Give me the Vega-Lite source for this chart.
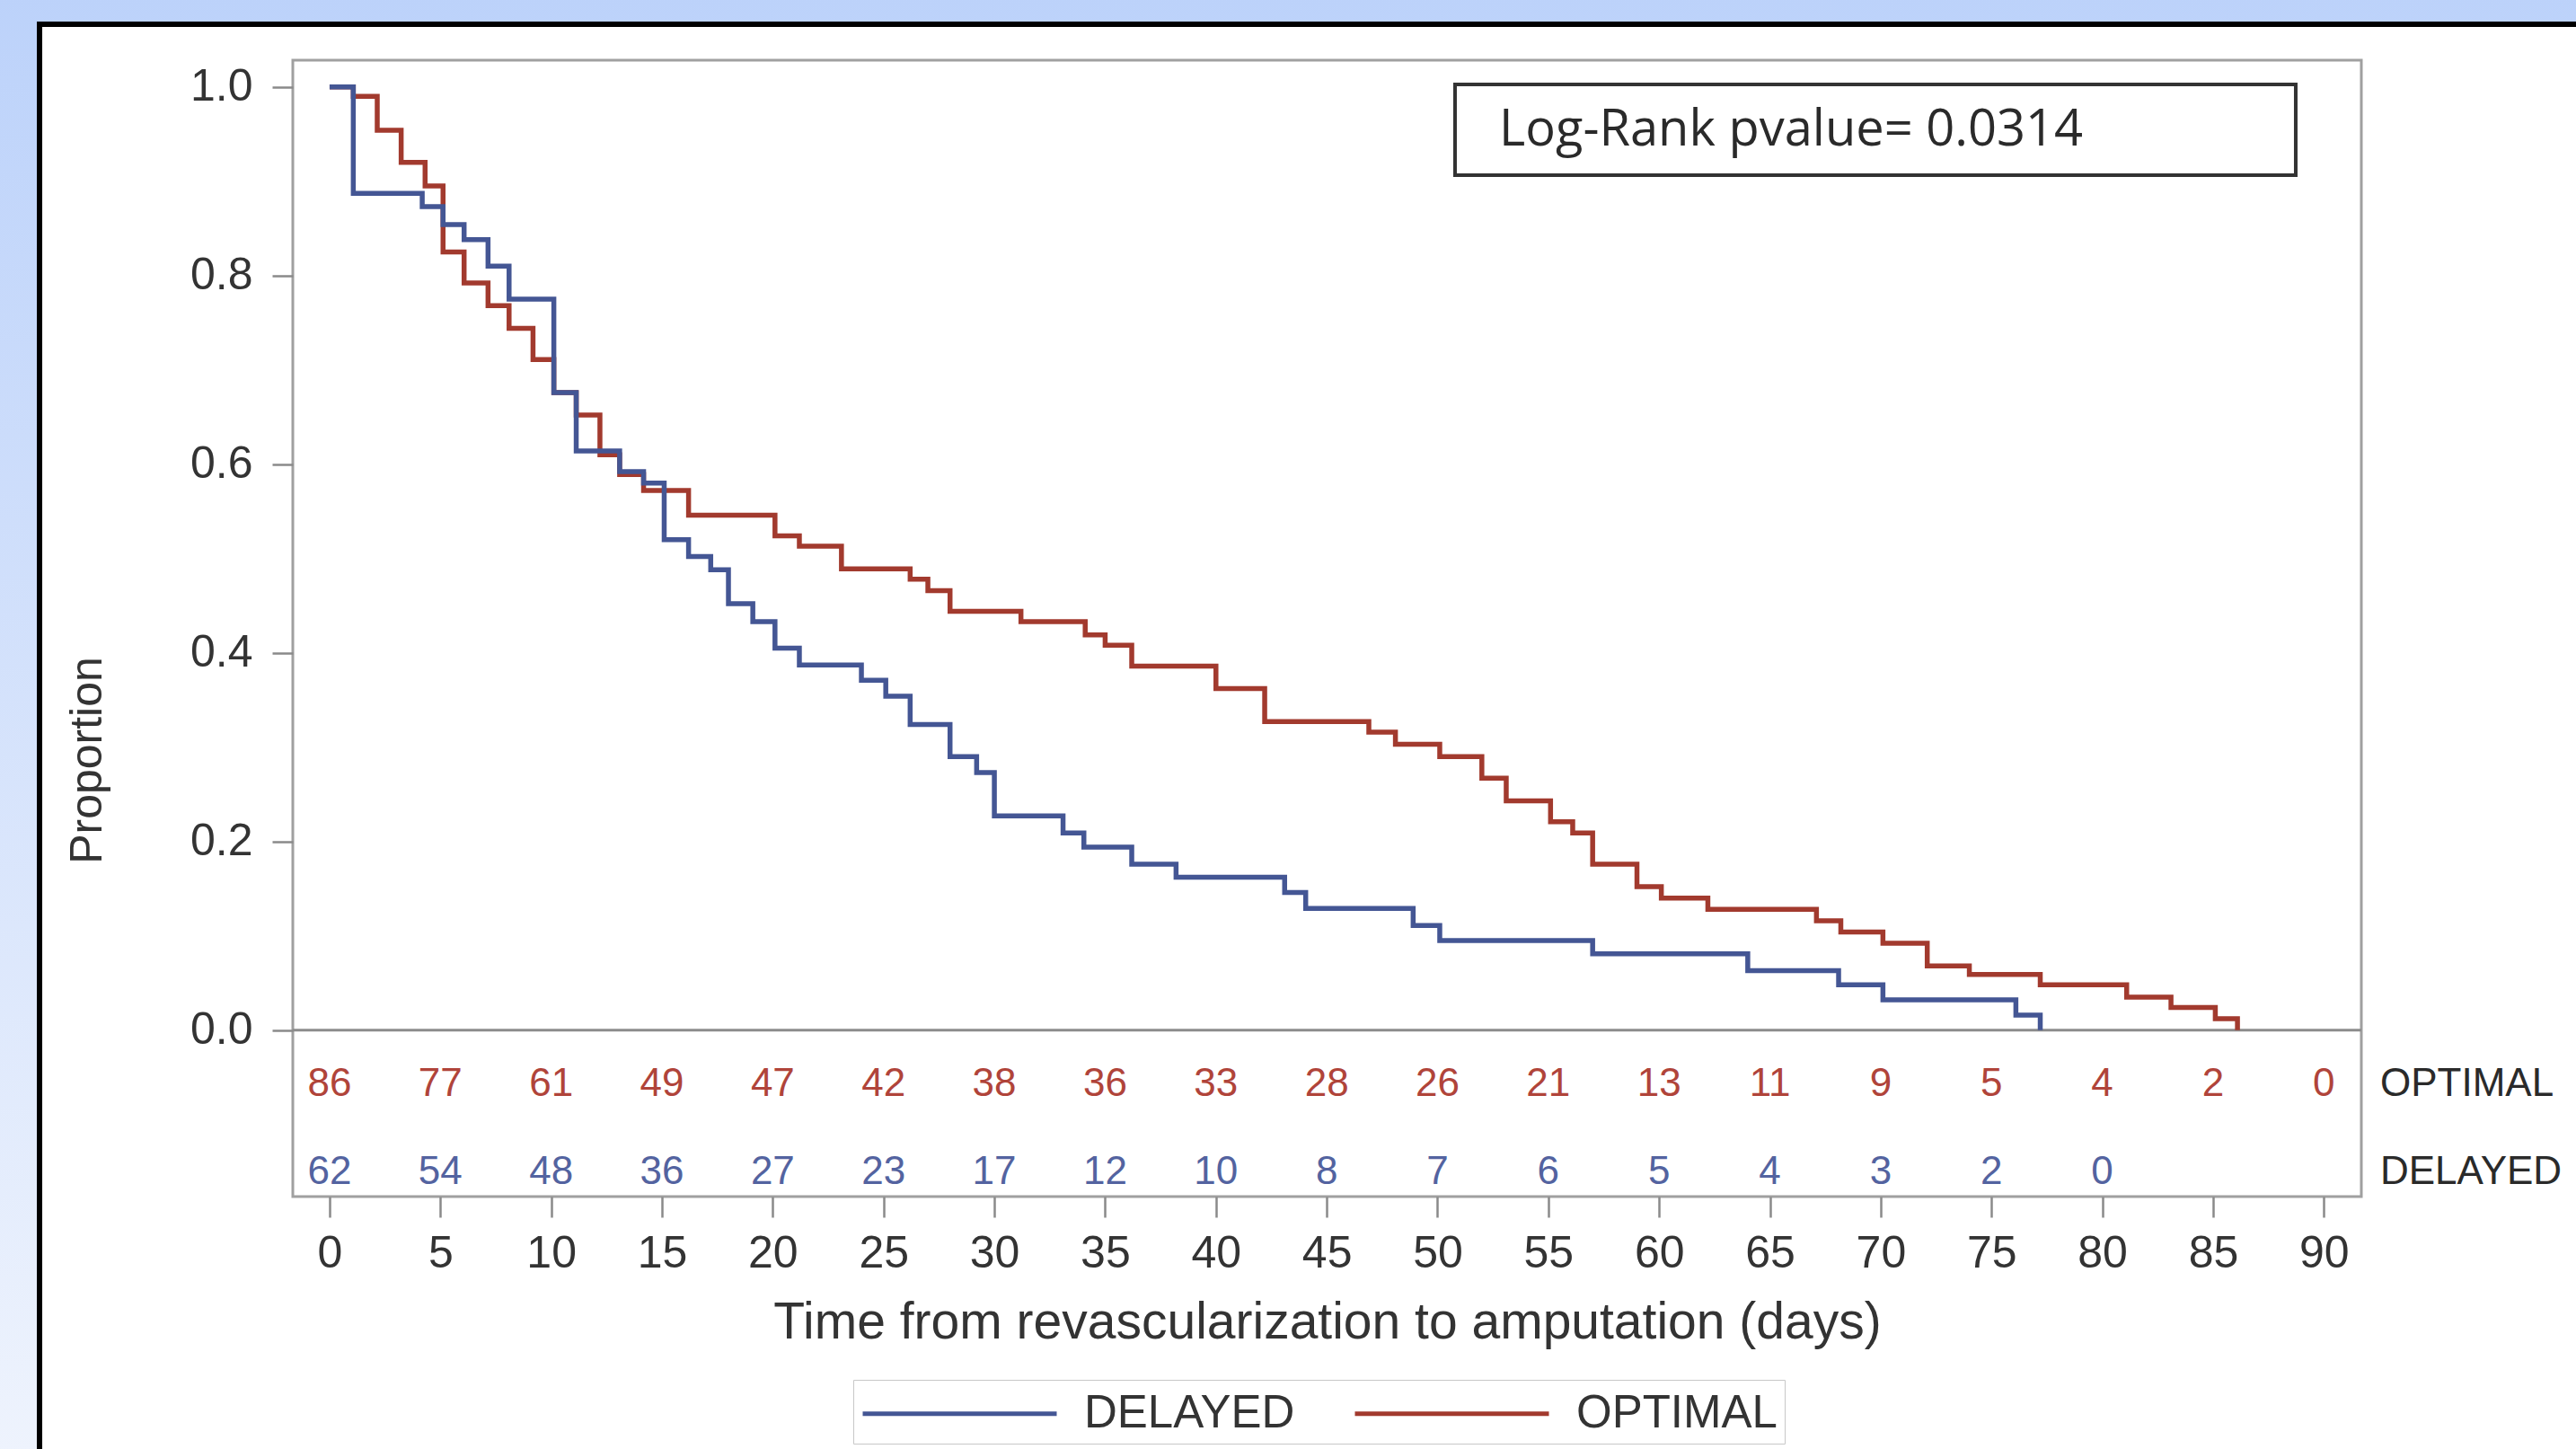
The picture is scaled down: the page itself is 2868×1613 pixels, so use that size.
{
  "$schema": "https://vega.github.io/schema/vega-lite/v6.json",
  "width": 2303,
  "height": 1265,
  "autosize": {"type": "none"},
  "padding": {"left": 326, "top": 67, "right": 239, "bottom": 281},
  "background": "#d3e2fb",
  "config": {
    "view": {"stroke": null},
    "font": "Liberation Sans"
  },
  "datasets": {
    "annot": [{"text": "Log-Rank pvalue= 0.0314"}],
    "km": [
      {"group": "OPTIMAL", "day": 0, "surv": 1.0},
      {"group": "OPTIMAL", "day": 1.07, "surv": 0.99},
      {"group": "OPTIMAL", "day": 2.15, "surv": 0.954},
      {"group": "OPTIMAL", "day": 3.23, "surv": 0.92},
      {"group": "OPTIMAL", "day": 4.31, "surv": 0.895},
      {"group": "OPTIMAL", "day": 5.12, "surv": 0.825},
      {"group": "OPTIMAL", "day": 6.07, "surv": 0.792},
      {"group": "OPTIMAL", "day": 7.15, "surv": 0.768},
      {"group": "OPTIMAL", "day": 8.1, "surv": 0.744},
      {"group": "OPTIMAL", "day": 9.18, "surv": 0.711},
      {"group": "OPTIMAL", "day": 10.12, "surv": 0.676},
      {"group": "OPTIMAL", "day": 11.13, "surv": 0.652},
      {"group": "OPTIMAL", "day": 12.2, "surv": 0.61},
      {"group": "OPTIMAL", "day": 13.09, "surv": 0.589},
      {"group": "OPTIMAL", "day": 14.17, "surv": 0.572},
      {"group": "OPTIMAL", "day": 16.2, "surv": 0.546},
      {"group": "OPTIMAL", "day": 20.1, "surv": 0.524},
      {"group": "OPTIMAL", "day": 21.2, "surv": 0.513},
      {"group": "OPTIMAL", "day": 23.1, "surv": 0.489},
      {"group": "OPTIMAL", "day": 26.2, "surv": 0.478},
      {"group": "OPTIMAL", "day": 27.0, "surv": 0.466},
      {"group": "OPTIMAL", "day": 28.0, "surv": 0.444},
      {"group": "OPTIMAL", "day": 31.2, "surv": 0.433},
      {"group": "OPTIMAL", "day": 34.1, "surv": 0.419},
      {"group": "OPTIMAL", "day": 35.0, "surv": 0.408},
      {"group": "OPTIMAL", "day": 36.2, "surv": 0.386},
      {"group": "OPTIMAL", "day": 40.0, "surv": 0.362},
      {"group": "OPTIMAL", "day": 42.2, "surv": 0.327},
      {"group": "OPTIMAL", "day": 46.9, "surv": 0.316},
      {"group": "OPTIMAL", "day": 48.1, "surv": 0.303},
      {"group": "OPTIMAL", "day": 50.1, "surv": 0.29},
      {"group": "OPTIMAL", "day": 52.0, "surv": 0.267},
      {"group": "OPTIMAL", "day": 53.1, "surv": 0.243},
      {"group": "OPTIMAL", "day": 55.1, "surv": 0.221},
      {"group": "OPTIMAL", "day": 56.1, "surv": 0.209},
      {"group": "OPTIMAL", "day": 57.0, "surv": 0.176},
      {"group": "OPTIMAL", "day": 59.0, "surv": 0.152},
      {"group": "OPTIMAL", "day": 60.1, "surv": 0.14},
      {"group": "OPTIMAL", "day": 62.2, "surv": 0.128},
      {"group": "OPTIMAL", "day": 67.1, "surv": 0.116},
      {"group": "OPTIMAL", "day": 68.2, "surv": 0.104},
      {"group": "OPTIMAL", "day": 70.1, "surv": 0.092},
      {"group": "OPTIMAL", "day": 72.1, "surv": 0.068},
      {"group": "OPTIMAL", "day": 74.0, "surv": 0.059},
      {"group": "OPTIMAL", "day": 77.2, "surv": 0.048},
      {"group": "OPTIMAL", "day": 81.1, "surv": 0.035},
      {"group": "OPTIMAL", "day": 83.1, "surv": 0.024},
      {"group": "OPTIMAL", "day": 85.1, "surv": 0.012},
      {"group": "OPTIMAL", "day": 86.1, "surv": 0.0},
      {"group": "DELAYED", "day": 0, "surv": 1.0},
      {"group": "DELAYED", "day": 1.07, "surv": 0.887},
      {"group": "DELAYED", "day": 4.18, "surv": 0.873},
      {"group": "DELAYED", "day": 5.12, "surv": 0.854},
      {"group": "DELAYED", "day": 6.07, "surv": 0.838},
      {"group": "DELAYED", "day": 7.15, "surv": 0.81},
      {"group": "DELAYED", "day": 8.1, "surv": 0.775},
      {"group": "DELAYED", "day": 10.12, "surv": 0.676},
      {"group": "DELAYED", "day": 11.13, "surv": 0.614},
      {"group": "DELAYED", "day": 13.09, "surv": 0.592},
      {"group": "DELAYED", "day": 14.17, "surv": 0.58},
      {"group": "DELAYED", "day": 15.1, "surv": 0.52},
      {"group": "DELAYED", "day": 16.2, "surv": 0.502},
      {"group": "DELAYED", "day": 17.2, "surv": 0.488},
      {"group": "DELAYED", "day": 18.0, "surv": 0.452},
      {"group": "DELAYED", "day": 19.1, "surv": 0.433},
      {"group": "DELAYED", "day": 20.1, "surv": 0.405},
      {"group": "DELAYED", "day": 21.2, "surv": 0.387},
      {"group": "DELAYED", "day": 24.0, "surv": 0.371},
      {"group": "DELAYED", "day": 25.1, "surv": 0.354},
      {"group": "DELAYED", "day": 26.2, "surv": 0.324},
      {"group": "DELAYED", "day": 28.0, "surv": 0.29},
      {"group": "DELAYED", "day": 29.2, "surv": 0.273},
      {"group": "DELAYED", "day": 30.0, "surv": 0.227},
      {"group": "DELAYED", "day": 33.1, "surv": 0.209},
      {"group": "DELAYED", "day": 34.04, "surv": 0.194},
      {"group": "DELAYED", "day": 36.2, "surv": 0.176},
      {"group": "DELAYED", "day": 38.2, "surv": 0.162},
      {"group": "DELAYED", "day": 43.1, "surv": 0.146},
      {"group": "DELAYED", "day": 44.05, "surv": 0.129},
      {"group": "DELAYED", "day": 48.9, "surv": 0.111},
      {"group": "DELAYED", "day": 50.1, "surv": 0.095},
      {"group": "DELAYED", "day": 57.0, "surv": 0.081},
      {"group": "DELAYED", "day": 64.0, "surv": 0.063},
      {"group": "DELAYED", "day": 68.1, "surv": 0.048},
      {"group": "DELAYED", "day": 70.1, "surv": 0.032},
      {"group": "DELAYED", "day": 76.1, "surv": 0.016},
      {"group": "DELAYED", "day": 77.2, "surv": 0.0}
    ],
    "risk": [
      {"group": "OPTIMAL", "day": 0, "n": 86},
      {"group": "OPTIMAL", "day": 5, "n": 77},
      {"group": "OPTIMAL", "day": 10, "n": 61},
      {"group": "OPTIMAL", "day": 15, "n": 49},
      {"group": "OPTIMAL", "day": 20, "n": 47},
      {"group": "OPTIMAL", "day": 25, "n": 42},
      {"group": "OPTIMAL", "day": 30, "n": 38},
      {"group": "OPTIMAL", "day": 35, "n": 36},
      {"group": "OPTIMAL", "day": 40, "n": 33},
      {"group": "OPTIMAL", "day": 45, "n": 28},
      {"group": "OPTIMAL", "day": 50, "n": 26},
      {"group": "OPTIMAL", "day": 55, "n": 21},
      {"group": "OPTIMAL", "day": 60, "n": 13},
      {"group": "OPTIMAL", "day": 65, "n": 11},
      {"group": "OPTIMAL", "day": 70, "n": 9},
      {"group": "OPTIMAL", "day": 75, "n": 5},
      {"group": "OPTIMAL", "day": 80, "n": 4},
      {"group": "OPTIMAL", "day": 85, "n": 2},
      {"group": "OPTIMAL", "day": 90, "n": 0},
      {"group": "DELAYED", "day": 0, "n": 62},
      {"group": "DELAYED", "day": 5, "n": 54},
      {"group": "DELAYED", "day": 10, "n": 48},
      {"group": "DELAYED", "day": 15, "n": 36},
      {"group": "DELAYED", "day": 20, "n": 27},
      {"group": "DELAYED", "day": 25, "n": 23},
      {"group": "DELAYED", "day": 30, "n": 17},
      {"group": "DELAYED", "day": 35, "n": 12},
      {"group": "DELAYED", "day": 40, "n": 10},
      {"group": "DELAYED", "day": 45, "n": 8},
      {"group": "DELAYED", "day": 50, "n": 7},
      {"group": "DELAYED", "day": 55, "n": 6},
      {"group": "DELAYED", "day": 60, "n": 5},
      {"group": "DELAYED", "day": 65, "n": 4},
      {"group": "DELAYED", "day": 70, "n": 3},
      {"group": "DELAYED", "day": 75, "n": 2},
      {"group": "DELAYED", "day": 80, "n": 0}
    ]
  },
  "layer": [
    {
      "data": {"name": "annot"},
      "mark": {"type": "rect", "color": {"gradient": "linear", "x1": 0, "y1": 0, "x2": 0, "y2": 1, "stops": [{"offset": 0, "color": "#bcd2fa"}, {"offset": 1, "color": "#eef3fd"}]}},
      "encoding": {
        "x": {"datum": -15}, "x2": {"datum": 102},
        "y": {"datum": 1.1}, "y2": {"datum": -0.45}
      }
    },
    {
      "data": {"name": "annot"},
      "mark": {"type": "rect", "fill": "#ffffff", "stroke": "#000000", "strokeWidth": 6},
      "encoding": {
        "x": {"datum": -13.09}, "x2": {"datum": 102},
        "y": {"datum": 1.0664}, "y2": {"datum": -0.45}
      }
    },
    {
      "data": {"name": "annot"},
      "mark": {"type": "rect", "filled": false, "color": "#a0a0a0", "strokeWidth": 3},
      "encoding": {
        "x": {"datum": -1.66}, "x2": {"datum": 91.69},
        "y": {"datum": 1.0283}, "y2": {"datum": -0.1765}
      }
    },
    {
      "data": {"name": "annot"},
      "mark": {"type": "rule", "color": "#8c8c8c", "strokeWidth": 3},
      "encoding": {"y": {"datum": 0}}
    },
    {
      "data": {"name": "annot"},
      "mark": {"type": "rect", "fill": "#ffffff", "stroke": "#333333", "strokeWidth": 4},
      "encoding": {
        "x": {"datum": 50.79}, "x2": {"datum": 88.73},
        "y": {"datum": 1.0026}, "y2": {"datum": 0.9063}
      }
    },
    {
      "data": {"name": "annot"},
      "mark": {"type": "text", "font": "Open Sans", "fontSize": 56, "color": "#2a2a2a", "align": "left", "baseline": "middle"},
      "encoding": {
        "x": {"datum": 52.78},
        "y": {"datum": 0.954},
        "text": {"field": "text"}
      }
    },
    {
      "data": {"name": "km"},
      "mark": {"type": "line", "interpolate": "step-after", "strokeWidth": 5.5},
      "encoding": {
        "x": {
          "field": "day", "type": "quantitative",
          "scale": {"domain": [-1.66, 91.69], "nice": false, "zero": false},
          "axis": {
            "zindex": 2,
            "values": [0, 5, 10, 15, 20, 25, 30, 35, 40, 45, 50, 55, 60, 65, 70, 75, 80, 85, 90],
            "grid": false, "domain": false,
            "tickSize": 23, "tickWidth": 2.5, "tickColor": "#8a8a8a",
            "labelFontSize": 50, "labelColor": "#333333", "labelPadding": 15, "labelFlush": false,
            "title": "Time from revascularization to amputation (days)",
            "titleFontSize": 57, "titleFontWeight": "normal", "titleColor": "#333333", "titlePadding": 24
          }
        },
        "y": {
          "field": "surv", "type": "quantitative",
          "scale": {"domain": [-0.1765, 1.0283], "nice": false, "zero": false},
          "axis": {
            "zindex": 2,
            "values": [0, 0.2, 0.4, 0.6, 0.8, 1.0], "format": ".1f",
            "grid": false, "domain": false,
            "tickSize": 23, "tickWidth": 2.5, "tickColor": "#8a8a8a",
            "labelFontSize": 50, "labelColor": "#333333", "labelPadding": 22, "labelFlush": false,
            "title": "Proportion",
            "titleFontSize": 50, "titleFontWeight": "normal", "titleColor": "#333333",
            "titleAngle": -90, "titleX": -229, "titleY": 779, "titleBaseline": "middle", "titleAlign": "center"
          }
        },
        "color": {
          "field": "group", "type": "nominal",
          "scale": {"domain": ["DELAYED", "OPTIMAL"], "range": ["#445694", "#A23A2E"]},
          "legend": {
            "title": null, "orient": "none", "legendX": 624, "legendY": 1469,
            "direction": "horizontal", "symbolType": "M-1,0H7", "symbolSize": 2916,
            "symbolStrokeWidth": 5, "labelFontSize": 51, "labelColor": "#333333",
            "labelLimit": 500, "labelOffset": 190, "columnPadding": 56, "padding": 8,
            "strokeColor": "#c8c8c8", "fillColor": "#ffffff"
          }
        }
      }
    },
    {
      "data": {"name": "risk"},
      "transform": [{"filter": "datum.group === 'OPTIMAL'"}],
      "mark": {"type": "text", "fontSize": 44, "color": "#b0443a", "align": "center", "baseline": "middle"},
      "encoding": {
        "x": {"field": "day", "type": "quantitative", "title": "Time from revascularization to amputation (days)"},
        "y": {"datum": -0.0576},
        "text": {"field": "n", "type": "quantitative"}
      }
    },
    {
      "data": {"name": "risk"},
      "transform": [{"filter": "datum.group === 'DELAYED'"}],
      "mark": {"type": "text", "fontSize": 44, "color": "#5363a0", "align": "center", "baseline": "middle"},
      "encoding": {
        "x": {"field": "day", "type": "quantitative", "title": "Time from revascularization to amputation (days)"},
        "y": {"datum": -0.1509},
        "text": {"field": "n", "type": "quantitative"}
      }
    },
    {
      "data": {"name": "annot"},
      "mark": {"type": "text", "fontSize": 44, "color": "#2a2a2a", "align": "left", "baseline": "middle"},
      "encoding": {
        "x": {"datum": 92.54},
        "y": {"datum": -0.0576},
        "text": {"value": "OPTIMAL"}
      }
    },
    {
      "data": {"name": "annot"},
      "mark": {"type": "text", "fontSize": 44, "color": "#2a2a2a", "align": "left", "baseline": "middle"},
      "encoding": {
        "x": {"datum": 92.54},
        "y": {"datum": -0.1509},
        "text": {"value": "DELAYED"}
      }
    }
  ]
}
